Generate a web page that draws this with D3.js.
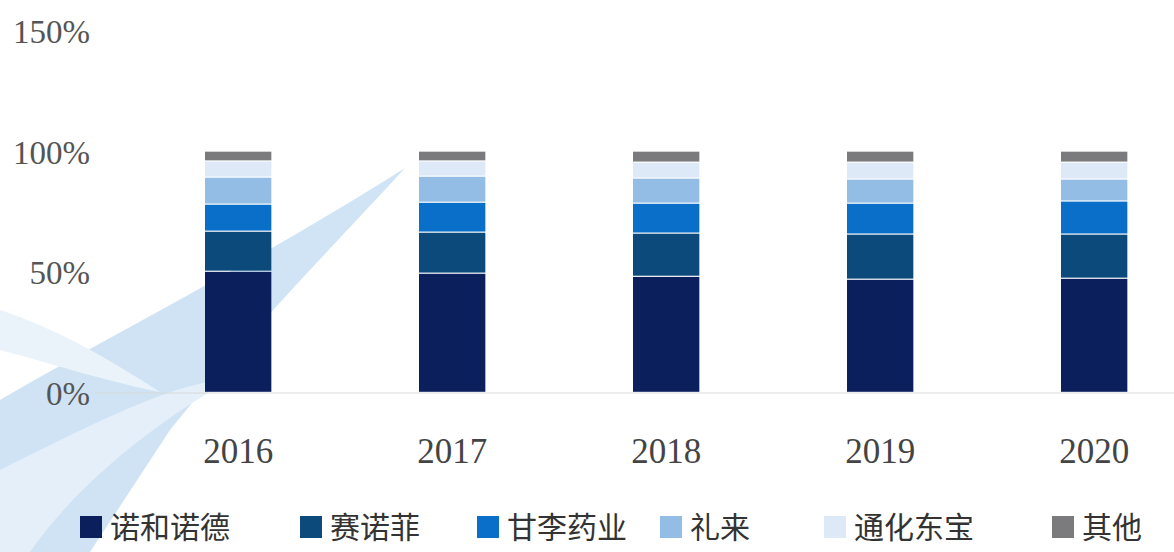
<!DOCTYPE html><html><head><meta charset="utf-8">
<script src="https://cdn.jsdelivr.net/npm/d3@7"></script>
<style>body{margin:0;background:#fff}</style></head><body><svg id="c" width="1174" height="552"></svg>
<script>
const years=["2016","2017","2018","2019","2020"];
const seriesNames=["诺和诺德","赛诺菲","甘李药业","礼来","通化东宝","其他"];
const novo=[50.2,49.4,48.1,46.9,47.3];
const sanofi=[16.6,17.0,17.9,18.7,18.3];
const gan=[11.2,12.4,12.4,12.8,13.7];
const lilly=[11.2,10.8,10.4,10.0,9.1];
const tonghua=[6.7,6.3,6.6,7.0,7.0];
const other=[4.1,4.1,4.6,4.6,4.6];
const yTicks=[0,50,100,150];
const colors=["#0a1f5c","#0d4a7c","#0a6fc8","#94bde6","#dde9f6","#7b7b7d"];
const svg=d3.select("#c");
// decorative background swooshes
const g0=svg.append("g").attr("opacity",0.55);
g0.append("path").attr("d","M0,400 C120,330 260,260 405,168 C330,250 250,330 170,430 L90,552 L0,552 Z").attr("fill","#a9cdec");
g0.append("path").attr("d","M0,470 C100,420 180,380 230,380 C160,420 80,480 30,552 L0,552 Z").attr("fill","#cfe3f5");
g0.append("path").attr("d","M0,310 C60,330 110,360 160,392 C100,380 40,360 0,350 Z").attr("fill","#d9e9f7");
const data=years.map((y,i)=>({year:y,v:[novo[i],sanofi[i],gan[i],lilly[i],tonghua[i],other[i]]}));
const stack=d3.stack().keys(d3.range(6)).value((d,k)=>d.v[k]);
const layers=stack(data);
const x=d3.scaleBand().domain(years).range([205,205+214*4.31]).paddingInner(0.69).paddingOuter(0);
const y=d3.scaleLinear().domain([0,150]).range([393,31]);
svg.append("line").attr("x1",95).attr("x2",1174).attr("y1",y(0)).attr("y2",y(0)).attr("stroke","#d9d9d9");
svg.selectAll("g.l").data(layers).join("g").attr("fill",(d,i)=>colors[i])
 .selectAll("rect").data(d=>d).join("rect")
 .attr("x",d=>x(d.data.year)).attr("width",x.bandwidth())
 .attr("y",d=>y(d[1])).attr("height",d=>Math.max(0,y(d[0])-y(d[1])-1.2));
svg.selectAll("text.yt").data(yTicks).join("text").attr("x",90).attr("y",d=>y(d)+12)
 .attr("text-anchor","end").attr("font-family","Liberation Serif").attr("font-size",33).attr("fill","#555").text(d=>d+"%");
svg.selectAll("text.xt").data(years).join("text").attr("x",d=>x(d)+x.bandwidth()/2).attr("y",463)
 .attr("text-anchor","middle").attr("font-family","Liberation Serif").attr("font-size",35).attr("fill","#444").text(d=>d);
const lx=[80,300,477,660,824,1052];
const lg=svg.selectAll("g.lg").data(seriesNames).join("g").attr("transform",(d,i)=>`translate(${lx[i]},527)`);
lg.append("rect").attr("x",0).attr("y",-11).attr("width",22).attr("height",22).attr("fill",(d,i)=>colors[i]);
lg.append("text").attr("x",30).attr("y",11).attr("font-family","Noto Sans CJK SC").attr("font-size",30).attr("fill","#333").text(d=>d);
</script></body></html>
